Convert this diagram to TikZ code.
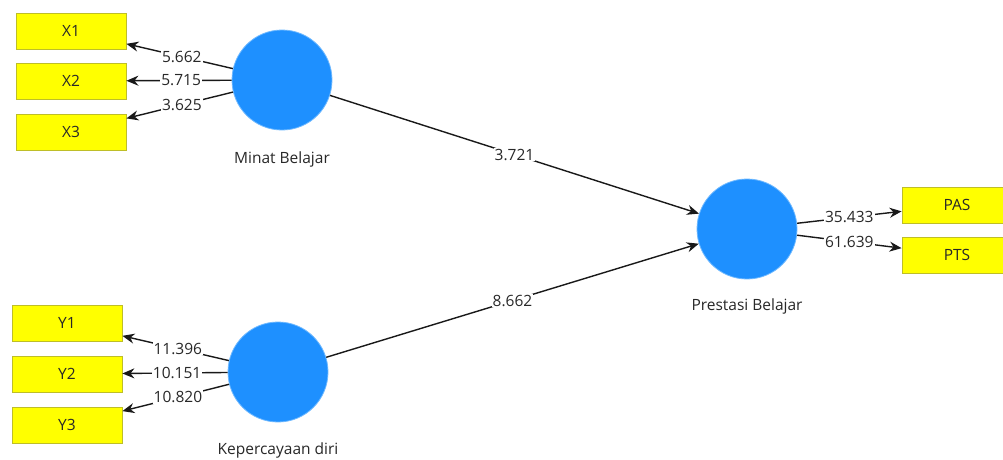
\documentclass[tikz,border=0pt]{standalone}
\usepackage{fontspec}
\setmainfont{Open Sans}
\usetikzlibrary{arrows.meta}
\definecolor{lvblue}{RGB}{30,144,255}
\definecolor{lvedge}{RGB}{110,185,255}
\definecolor{mvyellow}{RGB}{255,255,0}
\definecolor{mvedge}{RGB}{190,190,40}
\definecolor{txt}{RGB}{40,40,40}
\tikzset{
  lv/.style={circle, fill=lvblue, draw=lvedge, line width=0.8pt, minimum size=100pt, inner sep=0pt},
  mv/.style={rectangle, fill=mvyellow, draw=mvedge, line width=0.8pt, minimum width=110pt, minimum height=36pt, inner sep=0pt, font=\fontsize{15.5}{18}\selectfont, text=txt},
  lbl/.style={font=\fontsize{15.5}{18}\selectfont, text=txt},
  conn/.style={draw=black!90, line width=1.4pt, -{Stealth[length=12pt,width=10pt]}},
  val/.style={midway, fill=white, inner sep=1pt, font=\fontsize{15.5}{18}\selectfont, text=txt}
}
\begin{document}
\begin{tikzpicture}[x=1pt,y=-1pt]
\useasboundingbox (0,0) rectangle (1003,459);
\clip (0,0) rectangle (1003,459);
\fill[white] (0,0) rectangle (1003,459);
% latent variables
\node[lv] (mb) at (282,80) {};
\node[lbl] (mbl) at (282,159) {Minat Belajar};
\node[lv] (kd) at (278,372) {};
\node[lbl] (kdl) at (278,450) {Kepercayaan diri};
\node[lv] (pb) at (747,229) {};
\node[lbl] (pbl) at (747,306) {Prestasi Belajar};
% indicators
\node[mv] (x1) at (71,31) {X1};
\node[mv] (x2) at (71,81) {X2};
\node[mv] (x3) at (71,132) {X3};
\node[mv] (y1) at (67,323) {Y1};
\node[mv] (y2) at (67,374) {Y2};
\node[mv] (y3) at (67,425) {Y3};
\node[mv] (pas) at (957,205) {PAS};
\node[mv] (pts) at (957,255) {PTS};
% loadings
\draw[conn] (mb) -- node[val, pos=0.48] {5.662} (x1);
\draw[conn] (mb) -- node[val, pos=0.48] {5.715} (x2);
\draw[conn] (mb) -- node[val, pos=0.48] {3.625} (x3);
\draw[conn] (kd) -- node[val, pos=0.48] {11.396} (y1);
\draw[conn] (kd) -- node[val, pos=0.48] {10.151} (y2);
\draw[conn] (kd) -- node[val, pos=0.48] {10.820} (y3);
\draw[conn] (pb) -- node[val, pos=0.5] {35.433} (pas);
\draw[conn] (pb) -- node[val, pos=0.5] {61.639} (pts);
% paths
\draw[conn] (mb) -- node[val, pos=0.5] {3.721} (pb);
\draw[conn] (kd) -- node[val, pos=0.5] {8.662} (pb);
\end{tikzpicture}
\end{document}
